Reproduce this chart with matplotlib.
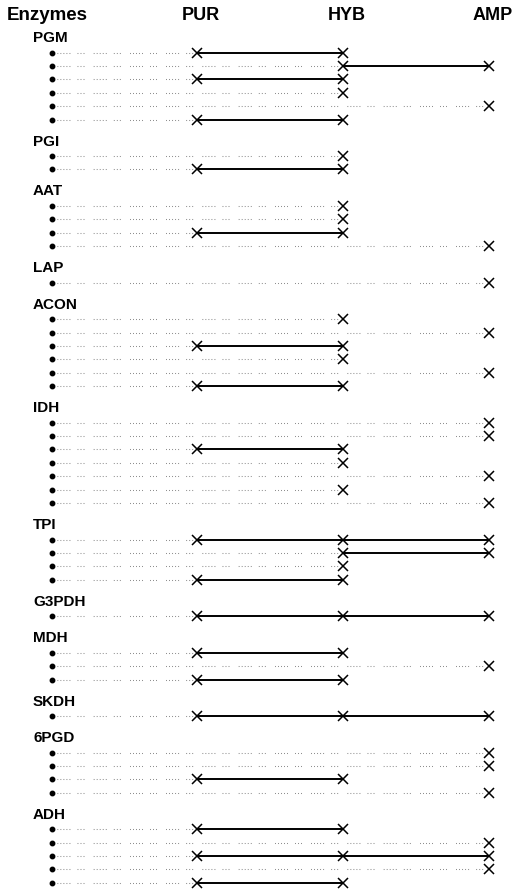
import matplotlib
matplotlib.use("Agg")
import matplotlib.pyplot as plt

plt.rcParams['font.family'] = ['Liberation Sans', 'DejaVu Sans']

# ---- data -------------------------------------------------------------
populations = ["PUR", "HYB", "AMP"]
enzymes = ["PGM", "PGI", "AAT", "LAP", "ACON", "IDH", "TPI",
           "G3PDH", "MDH", "SKDH", "6PGD", "ADH"]

# presence of each allele in (PUR, HYB, AMP), one tuple per allele row
PGM = [(1, 1, 0), (0, 1, 1), (1, 1, 0), (0, 1, 0), (0, 0, 1), (1, 1, 0)]
PGI = [(0, 1, 0), (1, 1, 0)]
AAT = [(0, 1, 0), (0, 1, 0), (1, 1, 0), (0, 0, 1)]
LAP = [(0, 0, 1)]
ACON = [(0, 1, 0), (0, 0, 1), (1, 1, 0), (0, 1, 0), (0, 0, 1), (1, 1, 0)]
IDH = [(0, 0, 1), (0, 0, 1), (1, 1, 0), (0, 1, 0), (0, 0, 1), (0, 1, 0), (0, 0, 1)]
TPI = [(1, 1, 1), (0, 1, 1), (0, 1, 0), (1, 1, 0)]
G3PDH = [(1, 1, 1)]
MDH = [(1, 1, 0), (0, 0, 1), (1, 1, 0)]
SKDH = [(1, 1, 1)]
PGD6 = [(0, 0, 1), (0, 0, 1), (1, 1, 0), (0, 0, 1)]
ADH = [(1, 1, 0), (0, 0, 1), (1, 1, 1), (0, 0, 1), (1, 1, 0)]

enzyme_rows = [PGM, PGI, AAT, LAP, ACON, IDH, TPI, G3PDH, MDH, SKDH, PGD6, ADH]

# ---- layout (pixel-like units) ----------------------------------------
W, H = 513, 890
dot_x = 52
pop_x = [197, 343, 489]
header_y = 16
first_label_y = 38
row_pitch = 13.4
label_to_row = 14.5
row_to_label = 22.0

fig = plt.figure(figsize=(W / 100, H / 100), dpi=100)
ax = fig.add_axes([0, 0, 1, 1])
ax.set_xlim(0, W)
ax.set_ylim(H, 0)
ax.axis('off')

ax.text(7, header_y, "Enzymes", fontsize=13.5, fontweight='bold',
        ha='left', va='center')
for px, name in zip(pop_x, populations):
    ax.text(px + 4, header_y, name, fontsize=13, fontweight='bold',
            ha='center', va='center')

dot_pattern = (0, (0.7, 2.2, 0.7, 2.2, 0.7, 2.2, 0.7, 2.2, 0.7, 7.0,
                   0.7, 2.2, 0.7, 2.2, 0.7, 9.0))

y = first_label_y
for name, rows in zip(enzymes, enzyme_rows):
    ax.text(33, y, name, fontsize=11, fontweight='bold',
            ha='left', va='center')
    y += label_to_row
    for k, pres in enumerate(rows):
        yy = y + k * row_pitch
        xs = [pop_x[i] for i in range(3) if pres[i]]
        # dotted lead line from the allele dot to the first population
        ax.plot([dot_x + 5, xs[0] - 4], [yy, yy], color='#666666',
                lw=0.75, linestyle=dot_pattern, zorder=1)
        # solid segments between consecutive populations
        if len(xs) > 1:
            ax.plot(xs, [yy] * len(xs), color='black', lw=1.4, zorder=2)
        ax.plot(xs, [yy] * len(xs), linestyle='none', marker='x',
                markersize=7, mew=1.1, color='black', zorder=3)
        ax.plot([dot_x], [yy], marker='o', markersize=3.2, color='black',
                linestyle='none', zorder=3)
    y += (len(rows) - 1) * row_pitch + row_to_label

fig.savefig("out.png", dpi=100)
